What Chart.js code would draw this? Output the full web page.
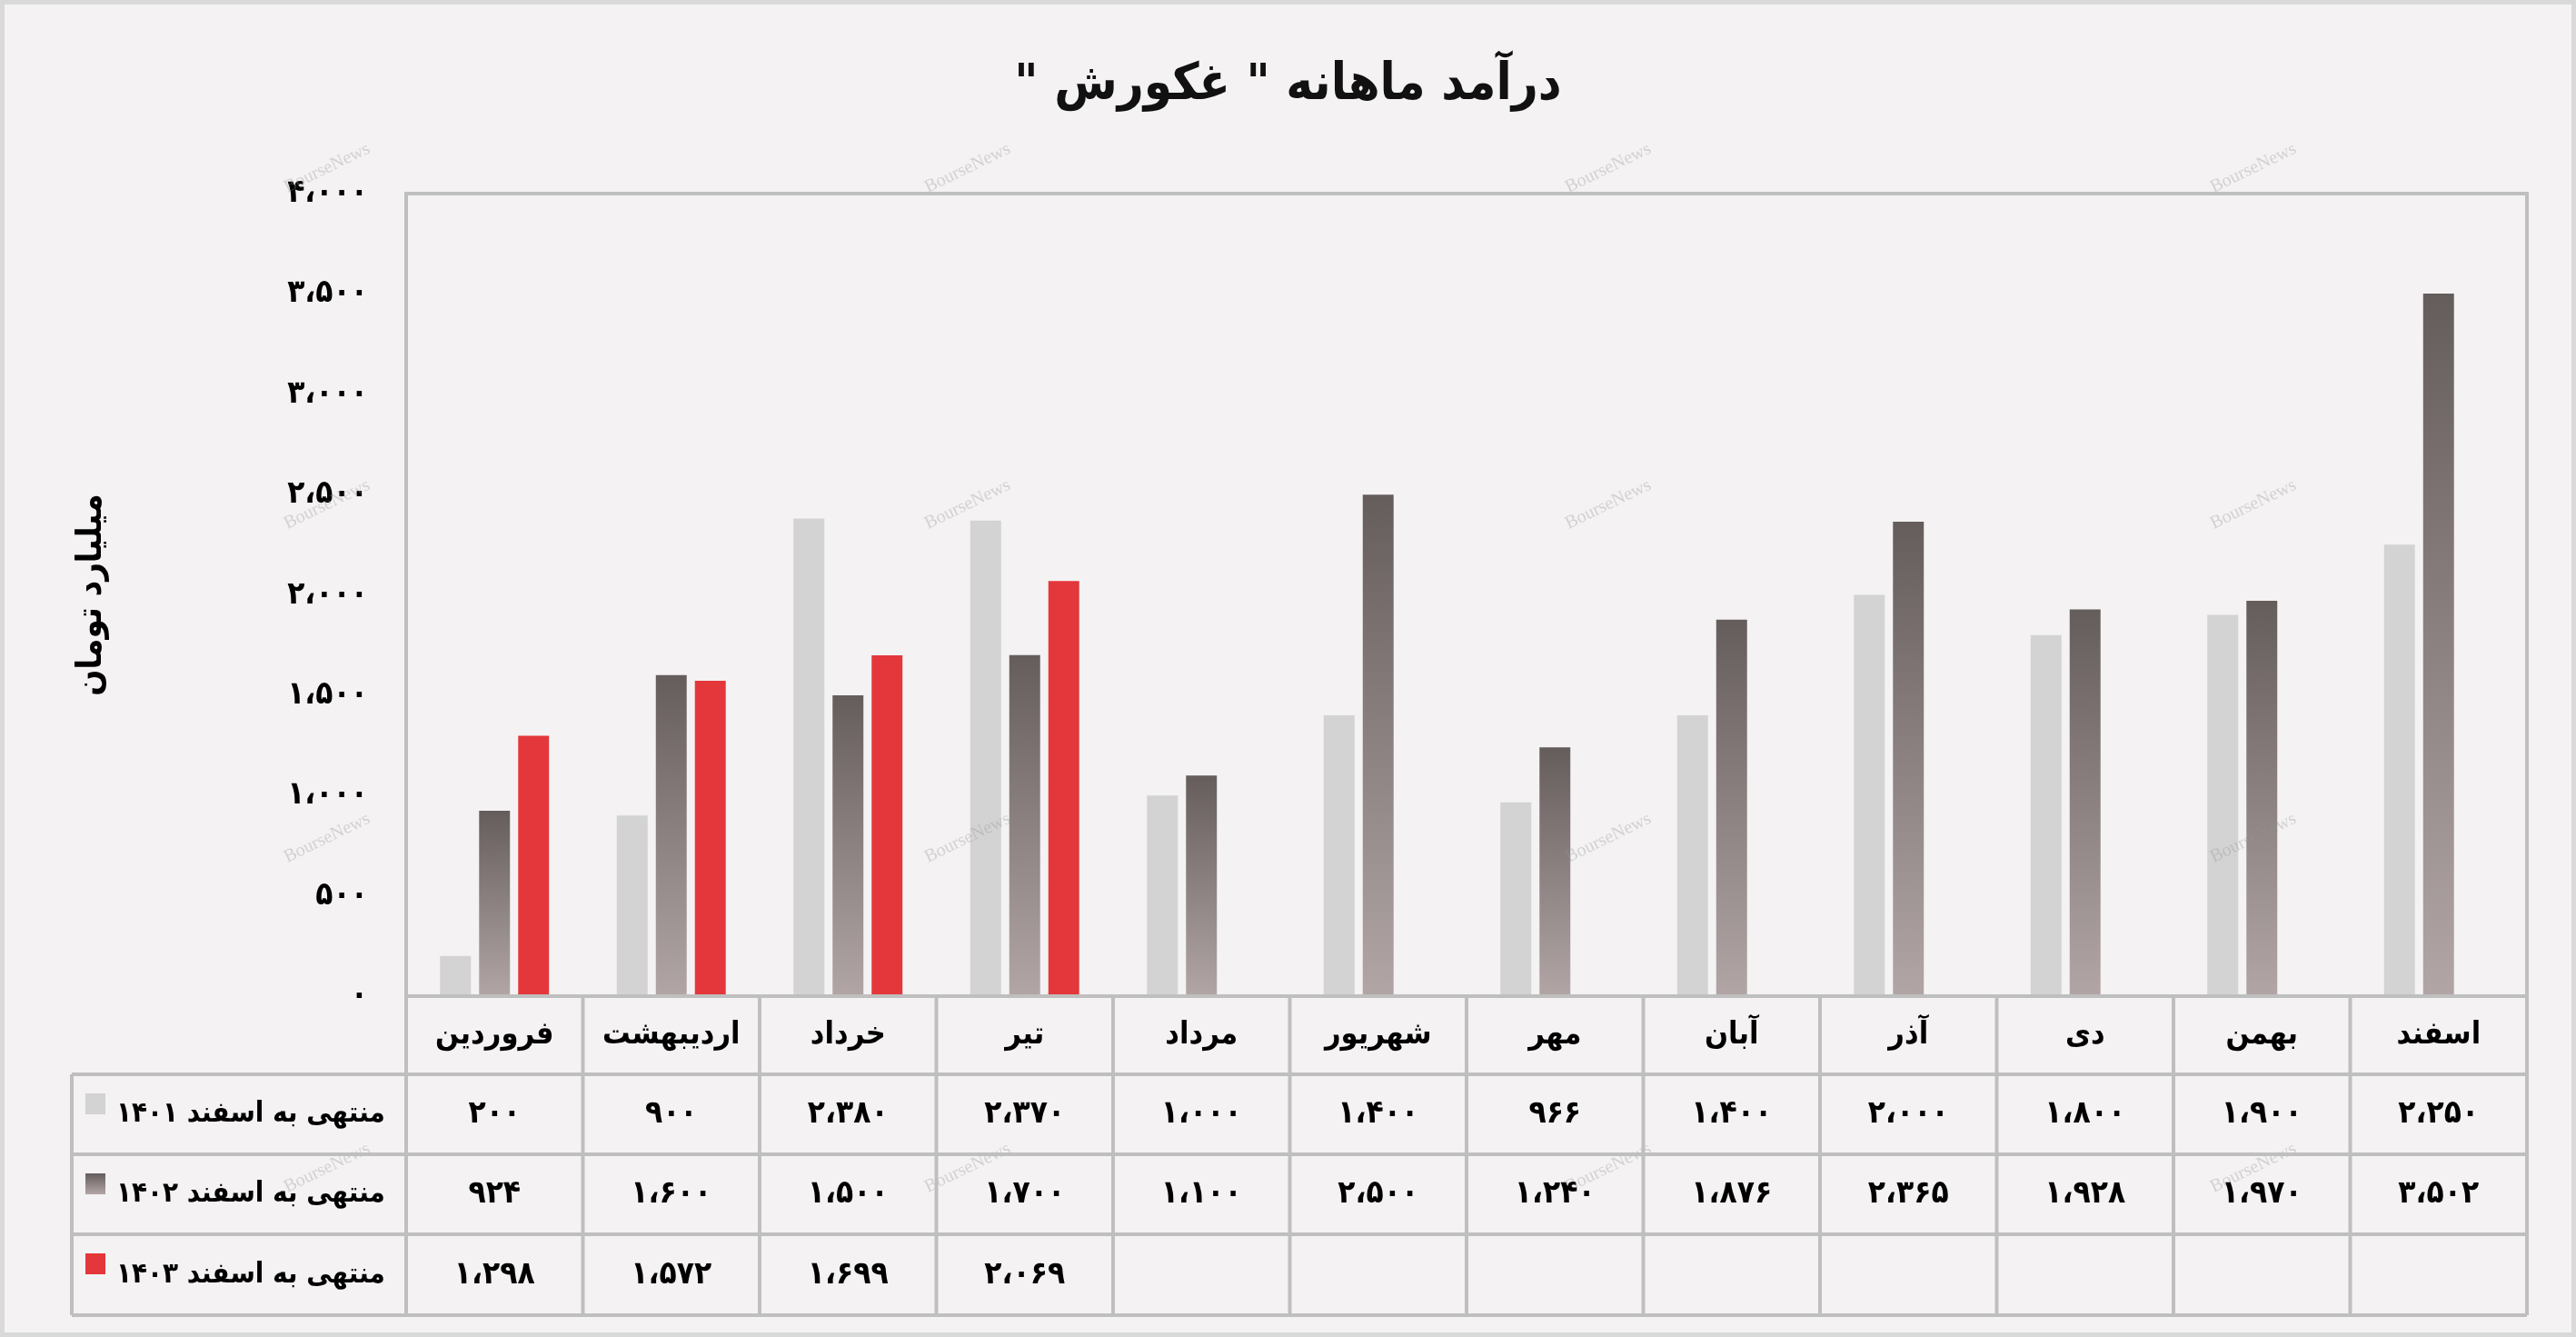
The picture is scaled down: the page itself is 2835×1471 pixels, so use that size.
<!DOCTYPE html>
<html>
<head>
<meta charset="utf-8">
<script src="https://cdn.jsdelivr.net/npm/chart.js@4.4.1/dist/chart.umd.min.js"></script>
<style>
html, body { margin: 0; padding: 0; background: #f4f2f3; }
#box { width: 2835px; height: 1471px; }
</style>
</head>
<body>
<div id="box"><canvas id="incomeChart" dir="rtl" width="2835" height="1471"></canvas></div>
<script>
const months = ['فروردین', 'اردیبهشت', 'خرداد', 'تیر', 'مرداد', 'شهریور', 'مهر', 'آبان', 'آذر', 'دی', 'بهمن', 'اسفند'];
const seriesNames = ['منتهی به اسفند ۱۴۰۱', 'منتهی به اسفند ۱۴۰۲', 'منتهی به اسفند ۱۴۰۳'];
const upTo1401 = [200, 900, 2380, 2370, 1000, 1400, 966, 1400, 2000, 1800, 1900, 2250];
const upTo1402 = [924, 1600, 1500, 1700, 1100, 2500, 1240, 1876, 2365, 1928, 1970, 3502];
const upTo1403 = [1298, 1572, 1699, 2069, null, null, null, null, null, null, null, null];
const yMin = 0, yMax = 4000, yStep = 500;
const chartTitle = 'درآمد ماهانه " غکورش "';

const FONT = "'DejaVu Sans Condensed', 'DejaVu Sans', sans-serif";
const GREY = '#d3d3d3';
const RED = '#e4373b';
const LINE = '#bfbfbf';

// persian digits with arabic comma
function toFa(v) {
    if (v == null) return '';
    const s = String(Math.round(v)).replace(/\B(?=(\d{3})+(?!\d))/g, '،');
    return s.replace(/\d/g, d => '۰۱۲۳۴۵۶۷۸۹'[d]);
}

function darkGradient(ctx, top, bottom) {
    const g = ctx.createLinearGradient(0, top, 0, bottom);
    g.addColorStop(0, '#655d5c');
    g.addColorStop(1, '#b1a6a5');
    return g;
}

const tablePlugin = {
    id: 'dataTable',
    beforeDraw(chart) {
        const ctx = chart.ctx;
        ctx.save();
        ctx.fillStyle = '#f4f2f3';
        ctx.fillRect(0, 0, chart.width, chart.height);
        ctx.strokeStyle = '#d9d9d9';
        ctx.lineWidth = 5;
        ctx.strokeRect(2.5, 2.5, chart.width - 5, chart.height - 5);

        // title, centred on the whole picture
        ctx.fillStyle = '#111';
        ctx.direction = 'rtl';
        ctx.textAlign = 'center';
        ctx.textBaseline = 'middle';
        ctx.font = 'bold 56px ' + FONT;
        ctx.fillText(chartTitle, chart.width / 2, 94);
        ctx.restore();
    },
    afterDatasetsDraw(chart) {
        // faint watermark
        const ctx = chart.ctx;
        ctx.save();
        ctx.direction = 'ltr';
        ctx.font = "20px 'Liberation Serif', serif";
        ctx.fillStyle = 'rgba(150,150,150,0.35)';
        ctx.textAlign = 'center';
        ctx.textBaseline = 'middle';
        [360, 1065, 1770, 2480].forEach(wx => {
            [185, 555, 922, 1285].forEach(wy => {
                ctx.save();
                ctx.translate(wx, wy);
                ctx.rotate(-0.45);
                ctx.fillText('BourseNews', 0, 0);
                ctx.restore();
            });
        });
        ctx.restore();
    },
    afterDraw(chart) {
        const ctx = chart.ctx;
        const a = chart.chartArea;
        const x = chart.scales.x;
        const step = x.getPixelForValue(1) - x.getPixelForValue(0);
        const rows = [a.bottom, a.bottom + 86, a.bottom + 174, a.bottom + 262, a.bottom + 351];
        const tableLeft = 79;
        const series = [upTo1401, upTo1402, upTo1403];

        ctx.save();
        ctx.strokeStyle = LINE;
        ctx.lineWidth = 4;
        ctx.strokeRect(a.left, a.top, a.right - a.left, a.bottom - a.top);

        ctx.beginPath();
        for (let r = 1; r < rows.length; r++) {
            ctx.moveTo(tableLeft, rows[r]);
            ctx.lineTo(a.right, rows[r]);
        }
        for (let i = 0; i <= months.length; i++) {
            const cx = a.left + i * step;
            ctx.moveTo(cx, rows[0]);
            ctx.lineTo(cx, rows[4]);
        }
        ctx.moveTo(tableLeft, rows[1]);
        ctx.lineTo(tableLeft, rows[4]);
        ctx.stroke();

        ctx.fillStyle = '#000';
        ctx.direction = 'rtl';
        ctx.textAlign = 'center';
        ctx.textBaseline = 'middle';
        ctx.font = 'bold 34px ' + FONT;
        months.forEach((m, i) => {
            ctx.fillText(m, x.getPixelForValue(i), (rows[0] + rows[1]) / 2);
        });
        ctx.font = 'bold 35px ' + FONT;
        series.forEach((vals, s) => {
            const cy = (rows[s + 1] + rows[s + 2]) / 2;
            vals.forEach((v, i) => {
                if (v != null) ctx.fillText(toFa(v), x.getPixelForValue(i), cy);
            });
        });

        // legend cells
        const swatch = [GREY, null, RED];
        ctx.font = 'bold 31px ' + FONT;
        ctx.textAlign = 'left';
        seriesNames.forEach((name, s) => {
            const top = rows[s + 1];
            const cy = (rows[s + 1] + rows[s + 2]) / 2;
            ctx.fillStyle = swatch[s] || darkGradient(ctx, top + 21, top + 44);
            ctx.fillRect(94, top + 21, 22, 23);
            ctx.fillStyle = '#000';
            ctx.fillText(name, 128, cy);
        });
        ctx.restore();
    }
};

const ctx = document.getElementById('incomeChart').getContext('2d');

new Chart(ctx, {
    type: 'bar',
    data: {
        labels: months,
        datasets: [{
            label: seriesNames[0],
            data: upTo1401,
            backgroundColor: GREY
        }, {
            label: seriesNames[1],
            data: upTo1402,
            backgroundColor: (c) => {
                const chart = c.chart;
                if (!chart.chartArea || c.raw == null || !chart.scales.y) return '#8a8180';
                const y = chart.scales.y;
                return darkGradient(chart.ctx, y.getPixelForValue(c.raw), y.getPixelForValue(0));
            }
        }, {
            label: seriesNames[2],
            data: upTo1403,
            backgroundColor: RED
        }]
    },
    options: {
        responsive: false,
        animation: false,
        categoryPercentage: 0.663,
        barPercentage: 0.79,
        layout: { padding: { left: 0, right: 54, top: 213, bottom: 0 } },
        plugins: {
            legend: { display: false },
            tooltip: { enabled: false },
            title: { display: false }
        },
        scales: {
            x: {
                grid: { display: false, drawTicks: false },
                border: { display: false },
                ticks: { display: false },
                afterFit: (s) => { s.height = 375; }
            },
            y: {
                min: yMin,
                max: yMax,
                grid: { display: false, drawTicks: false },
                border: { display: false },
                ticks: {
                    stepSize: yStep,
                    padding: 42,
                    color: '#000',
                    font: { family: FONT, size: 35, weight: 'bold' },
                    callback: (value) => toFa(value)
                },
                title: {
                    display: true,
                    text: 'میلیارد تومان',
                    color: '#000',
                    font: { family: FONT, size: 38, weight: 'bold' },
                    padding: { top: 78, bottom: 0 }
                },
                afterFit: (s) => { s.width = 447; }
            }
        }
    },
    plugins: [tablePlugin]
});
</script>
</body>
</html>
